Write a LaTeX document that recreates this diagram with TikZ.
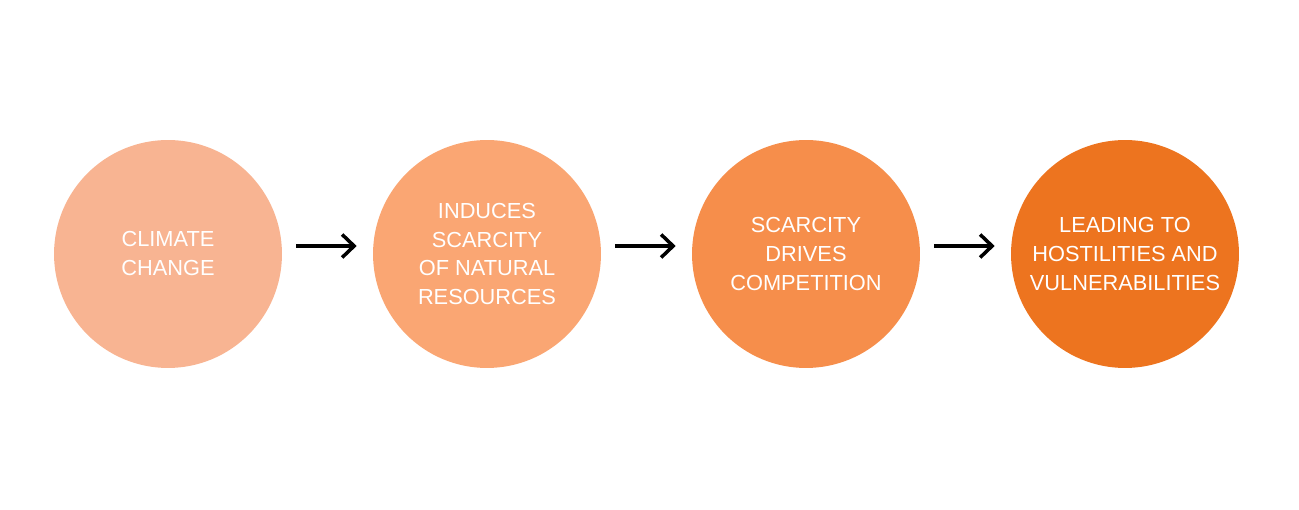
\documentclass[tikz,border=0pt]{standalone}
\usepackage{fontspec}
\setmainfont{Liberation Sans}
\usetikzlibrary{arrows.meta}

\definecolor{stepA}{RGB}{248,180,146}
\definecolor{stepB}{RGB}{250,166,115}
\definecolor{stepC}{RGB}{246,142,75}
\definecolor{stepD}{RGB}{237,116,31}

\begin{document}
\begin{tikzpicture}[x=0.02cm, y=0.02cm,
  stage/.style={circle, minimum size=4.56cm, inner sep=0pt, text=white, align=center,
    font=\fontsize{12.4pt}{16.5pt}\selectfont},
  flow/.style={-{Straight Barb[length=2.4mm, width=4.6mm, line width=2pt]}, line width=2.2pt, black}]
\def\cy{256}

\useasboundingbox (0,0) rectangle (1299,510);

\node[stage, fill=stepA] (climate) at (168,\cy) {CLIMATE\\CHANGE};
\node[stage, fill=stepB] (scarcity) at (487,\cy) {INDUCES\\SCARCITY\\OF NATURAL\\RESOURCES};
\node[stage, fill=stepC] (competition) at (806,\cy) {SCARCITY\\DRIVES\\COMPETITION};
\node[stage, fill=stepD] (hostility) at (1125,\cy) {LEADING TO\\HOSTILITIES AND\\VULNERABILITIES};

\draw[flow] ([shift={(14,8)}]climate.east) -- ([shift={(-16,8)}]scarcity.west);
\draw[flow] ([shift={(14,8)}]scarcity.east) -- ([shift={(-16,8)}]competition.west);
\draw[flow] ([shift={(14,8)}]competition.east) -- ([shift={(-16,8)}]hostility.west);
\end{tikzpicture}
\end{document}
